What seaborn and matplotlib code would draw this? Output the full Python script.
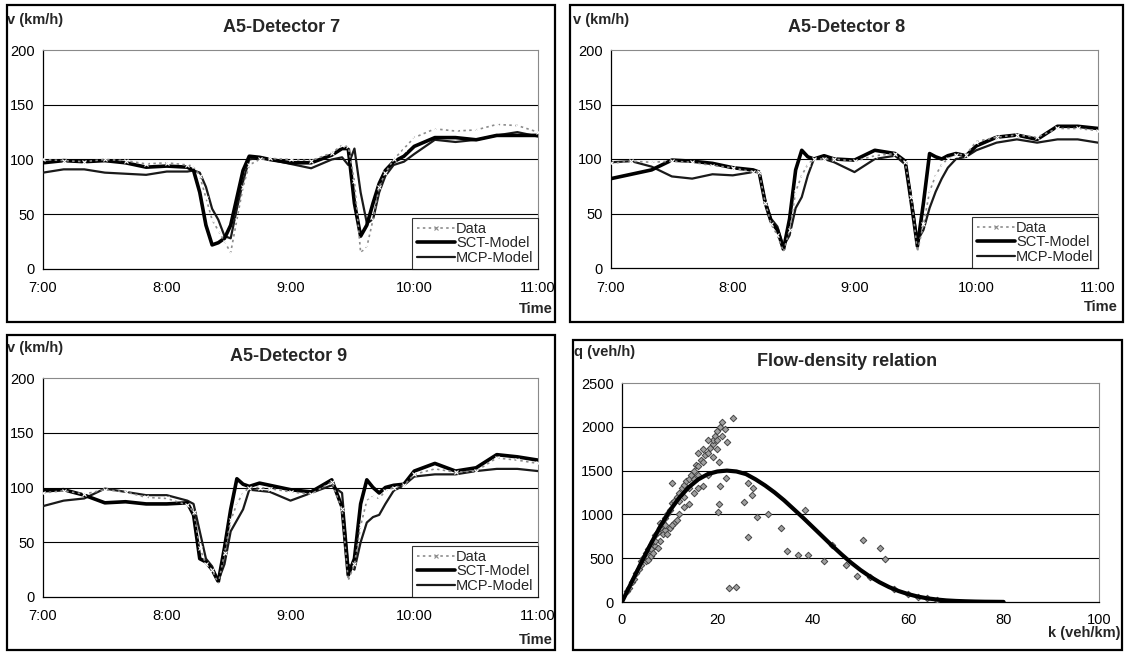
import numpy as np
import pandas as pd
import matplotlib
matplotlib.use("Agg")
import matplotlib.pyplot as plt
from matplotlib.patches import Rectangle
from matplotlib.lines import Line2D
import seaborn as sns

# ---------------- data ----------------
MINUTES = [0, 10, 20, 30, 40, 50, 60, 70,
           73, 76, 79, 82, 85, 88, 91, 94, 97, 100,
           105, 110, 120, 130, 140,
           145, 148, 151, 154, 157, 160, 163, 166,
           170, 175, 180, 190, 200, 210, 220, 230, 240]
TIME_TICKS = [0, 60, 120, 180, 240]
TIME_LABELS = ["7:00", "8:00", "9:00", "10:00", "11:00"]

D7_DATA = [100, 99, 98, 100, 99, 96, 97, 95,
           94, 85, 65, 45, 35, 25, 15, 45, 75, 95,
           100, 101, 100, 99, 106,
           113, 112, 80, 15, 20, 45, 75, 88,
           100, 110, 120, 128, 126, 127, 132, 131, 125]
D7_SCT = [97, 99, 98, 99, 97, 93, 94, 93,
          90, 70, 40, 22, 24, 28, 40, 65, 90, 103,
          102, 100, 97, 97, 104,
          110, 110, 60, 30, 40, 60, 78, 90,
          98, 103, 112, 120, 120, 118, 122, 122, 122]
D7_MCP = [88, 91, 91, 88, 87, 86, 89, 89,
          90, 88, 75, 55, 45, 30, 28, 55, 80, 100,
          102, 100, 96, 92, 100,
          102, 95, 110, 70, 42, 45, 70, 85,
          95, 98, 105, 118, 116, 118, 122, 125, 121]

D8_DATA = [96, 98, 97, 98, 97, 94, 92, 88,
           88, 60, 40, 30, 15, 35, 70, 85, 95, 100,
           100, 100, 98, 103, 105,
           97, 65, 15, 40, 70, 85, 95, 100,
           104, 104, 116, 120, 122, 120, 128, 128, 126]
D8_SCT = [82, 86, 90, 99, 98, 96, 92, 90,
          88, 60, 42, 35, 17, 45, 90, 108, 102, 100,
          103, 100, 99, 108, 105,
          98, 60, 20, 60, 105, 102, 100, 103,
          105, 103, 112, 120, 122, 118, 130, 130, 128]
D8_MCP = [97, 98, 93, 84, 82, 86, 85, 88,
          88, 62, 45, 38, 20, 30, 55, 65, 85, 100,
          100, 97, 88, 100, 103,
          95, 65, 25, 35, 55, 70, 82, 92,
          100, 102, 108, 115, 118, 115, 118, 118, 115]

D9_DATA = [95, 97, 94, 98, 96, 91, 90, 84,
           78, 45, 30, 25, 12, 40, 70, 85, 95, 100,
           100, 99, 96, 94, 105,
           80, 15, 30, 65, 88, 92, 90, 97,
           100, 102, 112, 117, 114, 115, 127, 125, 122]
D9_SCT = [97, 98, 93, 86, 87, 85, 85, 86,
          75, 35, 32, 25, 14, 45, 80, 108, 103, 101,
          104, 102, 98, 96, 107,
          82, 20, 35, 85, 107, 100, 95, 100,
          102, 103, 115, 122, 115, 118, 130, 128, 125]
D9_MCP = [83, 88, 90, 99, 96, 93, 93, 88,
          85, 60, 35, 28, 15, 30, 60, 70, 80, 98,
          97, 96, 88, 95, 102,
          95, 30, 25, 50, 68, 73, 75, 85,
          97, 102, 110, 112, 112, 115, 117, 117, 115]

SERIES_NAMES = ["Data", "SCT-Model", "MCP-Model"]
PANEL_TITLES = ["A5-Detector 7", "A5-Detector 8", "A5-Detector 9"]

# flow-density model curve
CURVE_K = [0, 2, 4, 6, 8, 10, 12, 14, 16, 18, 20, 22, 24, 26, 28, 30, 32, 34, 36, 38,
           40, 42, 44, 46, 48, 50, 52, 54, 56, 58, 60, 62, 64, 66, 68, 70, 72, 74, 76, 78, 80]
CURVE_Q = [0, 225, 445, 660, 860, 1040, 1190, 1310, 1400, 1460, 1490, 1500, 1490, 1460,
           1400, 1330, 1250, 1160, 1060, 960, 855, 750, 645, 545, 450, 365, 290, 225, 170,
           125, 90, 62, 42, 28, 18, 12, 8, 5, 3, 2, 1]

# measured flow-density points
MEAS_K = [1, 1.5, 2, 2.5, 3, 3.5, 4, 4, 4.5, 5, 5, 5.5, 6, 6, 6.5, 7, 7, 7.5, 8, 8,
          8.5, 8.5, 9, 9, 9.5, 10, 10, 10.5, 10.5, 11, 11, 11.5, 12, 12, 12.5, 13, 13,
          13.5, 14, 14, 14.5, 15, 15, 15.5, 16, 16, 16.5, 17, 17, 17.5, 18, 18, 18.5,
          19, 19, 19.5, 20, 20, 20.5, 21, 21, 21.5, 22, 16, 17, 18, 15, 13, 12, 9, 7, 8,
          6, 9.5, 10.5, 11.5, 7.5, 6.5, 5.5, 14, 16, 19, 20,
          23.2, 20.3, 20.3, 20.2, 20.6, 21.8, 26.5, 27.4, 27.2, 25.6, 26.5, 28.4, 30.7,
          33.4, 34.6, 36.8, 38.9, 38.3, 42.3, 50.6, 54.1, 55.1, 49.2, 22.4, 23.8,
          44, 47, 52, 57, 60, 62, 64, 66]
MEAS_Q = [120, 160, 230, 260, 330, 380, 420, 470, 500, 470, 560, 600, 520, 650, 700,
          640, 760, 800, 700, 850, 900, 780, 820, 960, 1000, 850, 1050, 1130, 1360, 900,
          1150, 1200, 1000, 1250, 1300, 1080, 1330, 1380, 1120, 1400, 1450, 1250, 1500,
          1560, 1300, 1550, 1620, 1320, 1600, 1680, 1450, 1700, 1760, 1800, 1850, 1900,
          1750, 1950, 2000, 1900, 2050, 1980, 1830, 1700, 1750, 1850, 1400, 1200, 1150,
          880, 700, 900, 600, 780, 880, 940, 620, 560, 480, 1300, 1450, 1650, 1850,
          2100, 1600, 1120, 1030, 1320, 1410, 1355, 1300, 1220, 1145, 740, 975, 1000,
          850, 580, 540, 540, 1050, 465, 705, 620, 495, 300, 165, 170,
          650, 420, 280, 150, 95, 60, 40, 28]

# ---------------- style ----------------
sns.set_theme(style="white")
plt.rcParams["font.family"] = ["Liberation Sans", "DejaVu Sans"]
plt.rcParams["axes.linewidth"] = 0.9

W, H = 1128, 653
fig = plt.figure(figsize=(W / 100, H / 100), dpi=100)
fig.patch.set_facecolor("white")


def ax_px(x0, x1, y0, y1):
    return fig.add_axes([x0 / W, 1 - y1 / H, (x1 - x0) / W, (y1 - y0) / H])


def ftext(x, y, s, **kw):
    fig.text(x / W, 1 - y / H, s, **kw)


def style_axes(ax):
    ax.set_facecolor("white")
    for side in ["left", "bottom"]:
        ax.spines[side].set_color("black")
        ax.spines[side].set_linewidth(0.9)
    for side in ["top", "right"]:
        ax.spines[side].set_color("#8a8a8a")
        ax.spines[side].set_linewidth(0.8)
    ax.tick_params(axis="both", which="both", direction="out", length=3,
                   width=0.8, color="black", labelsize=10.5, labelcolor="black")
    ax.tick_params(axis="x", pad=6)
    ax.tick_params(axis="y", pad=3)
    ax.set_xlabel("")
    ax.set_ylabel("")


speed_panels = [
    dict(data=(D7_DATA, D7_SCT, D7_MCP), rect=(43, 538, 50, 269),
         box=(7, 5, 555, 322), title=(282, 27), ylab=(7, 20), xlab=(553, 309)),
    dict(data=(D8_DATA, D8_SCT, D8_MCP), rect=(611, 1098, 50, 268),
         box=(570, 5, 1123, 322), title=(847, 27), ylab=(573, 20), xlab=(1118, 307)),
    dict(data=(D9_DATA, D9_SCT, D9_MCP), rect=(43, 538, 378, 597),
         box=(7, 335, 555, 650), title=(289, 357), ylab=(7, 348), xlab=(553, 640)),
]

for i, p in enumerate(speed_panels):
    ax = ax_px(*p["rect"])
    d_data, d_sct, d_mcp = p["data"]
    df = pd.DataFrame({"t": MINUTES, "Data": d_data, "SCT": d_sct, "MCP": d_mcp})
    sns.lineplot(data=df, x="t", y="MCP", ax=ax, color="#1a1a1a", lw=1.6, zorder=3)
    sns.lineplot(data=df, x="t", y="SCT", ax=ax, color="black", lw=2.6, zorder=4)
    sns.lineplot(data=df, x="t", y="Data", ax=ax, color="#8c8c8c", lw=1.2,
                 linestyle=(0, (1.5, 2.0)), marker="x", markersize=2.5,
                 markeredgewidth=0.8, zorder=5)
    ax.set_xlim(0, 240)
    ax.set_ylim(0, 200)
    ax.set_xticks(TIME_TICKS)
    ax.set_xticklabels(TIME_LABELS)
    ax.set_yticks([0, 50, 100, 150, 200])
    for yv in [50, 100, 150]:
        ax.axhline(yv, color="black", lw=0.8, zorder=1)
    style_axes(ax)
    handles = [
        Line2D([], [], color="#8c8c8c", lw=1.2, linestyle=(0, (1.5, 2.0)),
               marker="x", markersize=2.5, markeredgewidth=0.8),
        Line2D([], [], color="black", lw=2.6),
        Line2D([], [], color="#1a1a1a", lw=1.6),
    ]
    leg = ax.legend(handles, SERIES_NAMES, loc="lower right", borderaxespad=0,
                    frameon=True, fancybox=False, edgecolor="black", fontsize=10.5,
                    handlelength=2.6, handletextpad=0.1, labelspacing=0.02,
                    borderpad=0.3)
    leg.get_frame().set_linewidth(0.8)
    leg.get_frame().set_facecolor("white")
    leg.set_zorder(10)

    bx0, by0, bx1, by1 = p["box"]
    fig.patches.append(Rectangle((bx0 / W, 1 - by1 / H), (bx1 - bx0) / W, (by1 - by0) / H,
                                 transform=fig.transFigure, fill=False,
                                 edgecolor="black", lw=1.6, zorder=20))
    ftext(*p["title"], PANEL_TITLES[i], ha="center", va="center",
          fontsize=13, fontweight="bold")
    ftext(*p["ylab"], "v (km/h)", ha="left", va="center", fontsize=10.5, fontweight="bold")
    ftext(*p["xlab"], "Time", ha="right", va="center", fontsize=10.5, fontweight="bold")

# ---------------- flow-density panel ----------------
ax = ax_px(622, 1099, 383, 602)
meas = pd.DataFrame({"k": MEAS_K, "q": MEAS_Q})
curve = pd.DataFrame({"k": CURVE_K, "q": CURVE_Q})
for yv in [500, 1000, 1500, 2000]:
    ax.axhline(yv, color="black", lw=0.8, zorder=1)
sns.scatterplot(data=meas, x="k", y="q", ax=ax, marker="D", s=11,
                color="#a0a0a0", edgecolor="#444444", linewidth=0.7, zorder=3)
sns.lineplot(data=curve, x="k", y="q", ax=ax, color="black", lw=3.0, sort=False, zorder=4)
ax.set_xlim(0, 100)
ax.set_ylim(0, 2500)
ax.set_xticks([0, 20, 40, 60, 80, 100])
ax.set_yticks([0, 500, 1000, 1500, 2000, 2500])
style_axes(ax)
ax.tick_params(axis="x", pad=5)
fig.patches.append(Rectangle((573 / W, 1 - 650 / H), (1122 - 573) / W, (650 - 340) / H,
                             transform=fig.transFigure, fill=False,
                             edgecolor="black", lw=1.6, zorder=20))
ftext(847, 362, "Flow-density relation", ha="center", va="center",
      fontsize=13, fontweight="bold")
ftext(574, 352, "q (veh/h)", ha="left", va="center", fontsize=10.5, fontweight="bold")
ftext(1120, 633, "k (veh/km)", ha="right", va="center", fontsize=10.5, fontweight="bold")

fig.savefig("out.png", dpi=100, facecolor="white")
